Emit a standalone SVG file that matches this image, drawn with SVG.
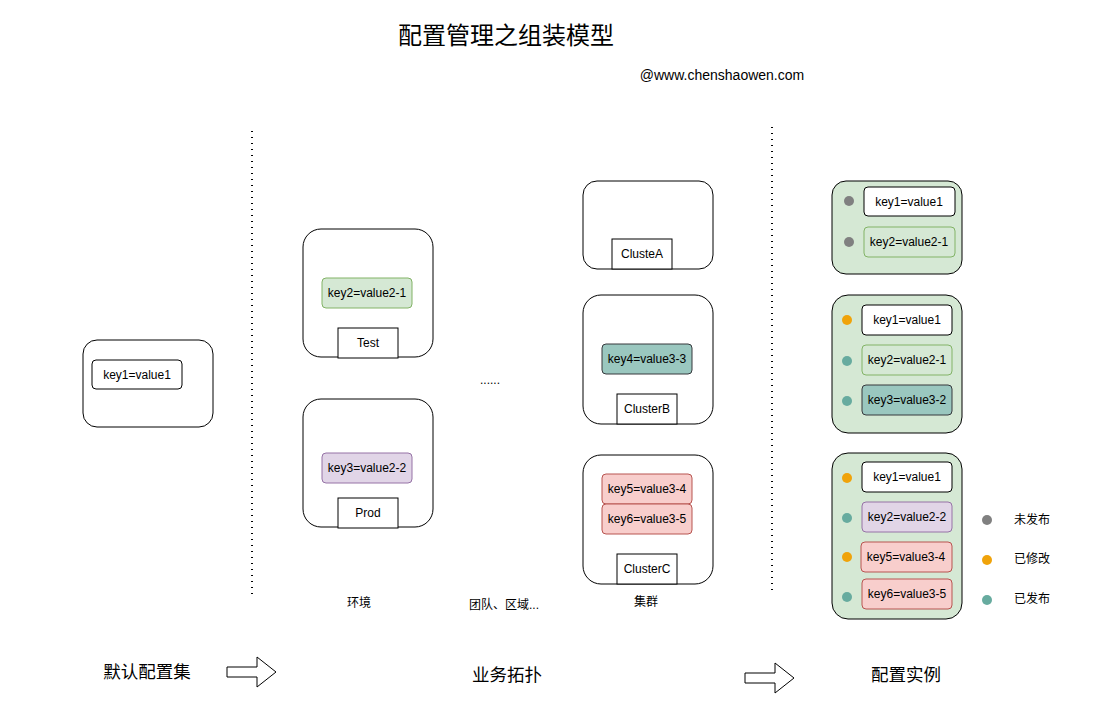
<svg xmlns="http://www.w3.org/2000/svg" width="1100" height="725" viewBox="0 0 1100 725">
<defs>
<style>
text{font-family:"Liberation Sans","Noto Sans CJK SC",sans-serif;fill:#000;text-anchor:middle;dominant-baseline:central}
.k{font-size:12px}
.c{fill:#fff;stroke:#000;stroke-width:1}
.cg{fill:#d5e8d4;stroke:#000;stroke-width:1}
.w{fill:#fff;stroke:#000;stroke-width:1}
.g{fill:#d5e8d4;stroke:#82b366;stroke-width:1}
.p{fill:#e1d5e7;stroke:#9673a6;stroke-width:1}
.t{fill:#9ac7bf;stroke:#36393d;stroke-width:1}
.r{fill:#f8cecc;stroke:#b85450;stroke-width:1}
.dg{fill:#808080}
.do{fill:#f0a30a}
.dt{fill:#67ab9f}
.dot{stroke:#000;stroke-width:2;stroke-dasharray:1 5}
.ar{fill:#fff;stroke:#000;stroke-width:1}
.b{font-size:17.5px}
.s{font-size:12px}
</style>
</defs>
<rect width="1100" height="725" fill="#fff"/>
<text x="506" y="35" style="font-size:24px">配置管理之组装模型</text>
<text x="722" y="75" style="font-size:14px">@www.chenshaowen.com</text>

<g id="dividers">
<line class="dot" x1="252" y1="131" x2="252" y2="598"/>
<line class="dot" x1="772" y1="127" x2="772" y2="593"/>
</g>

<g id="default">
<rect class="c" x="83" y="340" width="130" height="87" rx="14"/>
<rect class="w" x="92" y="360" width="90" height="29" rx="4"/>
<text class="k" x="137" y="375">key1=value1</text>
</g>

<g id="test">
<rect class="c" x="303" y="229" width="130" height="128" rx="18"/>
<rect class="g" x="322" y="278" width="90" height="30" rx="4"/>
<text class="k" x="367" y="293">key2=value2-1</text>
<rect class="w" x="338" y="328" width="60" height="30"/>
<text class="k" x="368" y="343">Test</text>
</g>

<g id="prod">
<rect class="c" x="303" y="399" width="130" height="128" rx="18"/>
<rect class="p" x="322" y="453" width="90" height="30" rx="4"/>
<text class="k" x="367" y="468">key3=value2-2</text>
<rect class="w" x="338" y="498" width="60" height="30"/>
<text class="k" x="368" y="513">Prod</text>
</g>

<text class="s" x="490" y="380">......</text>

<g id="clusterA">
<rect class="c" x="583" y="181" width="130" height="88" rx="14"/>
<rect class="w" x="612" y="239" width="60" height="30"/>
<text class="k" x="642" y="254">ClusteA</text>
</g>

<g id="clusterB">
<rect class="c" x="583" y="295" width="130" height="129" rx="18"/>
<rect class="t" x="602" y="344" width="90" height="30" rx="4"/>
<text class="k" x="647" y="359">key4=value3-3</text>
<rect class="w" x="617" y="394" width="60" height="30"/>
<text class="k" x="647" y="409">ClusterB</text>
</g>

<g id="clusterC">
<rect class="c" x="583" y="455" width="130" height="129" rx="18"/>
<rect class="r" x="602" y="474" width="90" height="30" rx="4"/>
<text class="k" x="647" y="489">key5=value3-4</text>
<rect class="r" x="602" y="504" width="90" height="30" rx="4"/>
<text class="k" x="647" y="519">key6=value3-5</text>
<rect class="w" x="617" y="554" width="60" height="30"/>
<text class="k" x="647" y="569">ClusterC</text>
</g>

<text class="s" x="359" y="603">环境</text>
<text class="s" x="504" y="605">团队、区域...</text>
<text class="s" x="646" y="602">集群</text>

<g id="instance1">
<rect class="cg" x="832" y="181" width="130" height="93" rx="14"/>
<circle class="dg" cx="849" cy="201" r="5"/>
<rect class="w" x="864" y="187" width="91" height="29" rx="4"/>
<text class="k" x="909" y="202">key1=value1</text>
<circle class="dg" cx="849" cy="242" r="5"/>
<rect class="g" x="864" y="227" width="91" height="30" rx="4"/>
<text class="k" x="909" y="242">key2=value2-1</text>
</g>

<g id="instance2">
<rect class="cg" x="832" y="295" width="130" height="138" rx="16"/>
<circle class="do" cx="847" cy="320" r="5"/>
<rect class="w" x="862" y="305" width="90" height="30" rx="4"/>
<text class="k" x="907" y="320">key1=value1</text>
<circle class="dt" cx="847" cy="361" r="5"/>
<rect class="g" x="862" y="345" width="90" height="30" rx="4"/>
<text class="k" x="907" y="360">key2=value2-1</text>
<circle class="dt" cx="847" cy="401" r="5"/>
<rect class="t" x="862" y="385" width="90" height="30" rx="4"/>
<text class="k" x="907" y="400">key3=value3-2</text>
</g>

<g id="instance3">
<rect class="cg" x="832" y="453" width="130" height="166" rx="16"/>
<circle class="do" cx="847" cy="478" r="5"/>
<rect class="w" x="862" y="462" width="90" height="30" rx="4"/>
<text class="k" x="907" y="477">key1=value1</text>
<circle class="dt" cx="847" cy="518" r="5"/>
<rect class="p" x="862" y="502" width="90" height="30" rx="4"/>
<text class="k" x="907" y="517">key2=value2-2</text>
<circle class="do" cx="847" cy="557" r="5"/>
<rect class="r" x="861" y="542" width="91" height="30" rx="4"/>
<text class="k" x="906" y="557">key5=value3-4</text>
<circle class="dt" cx="847" cy="597" r="5"/>
<rect class="r" x="862" y="579" width="90" height="30" rx="4"/>
<text class="k" x="907" y="594">key6=value3-5</text>
</g>

<g id="legend">
<circle class="dg" cx="987" cy="520" r="5"/>
<text class="s" x="1032" y="520">未发布</text>
<circle class="do" cx="987" cy="560" r="5"/>
<text class="s" x="1032" y="559">已修改</text>
<circle class="dt" cx="987" cy="600" r="5"/>
<text class="s" x="1032" y="599">已发布</text>
</g>

<g id="bottom">
<text class="b" x="147" y="672">默认配置集</text>
<text class="b" x="507" y="675">业务拓扑</text>
<text class="b" x="906" y="675">配置实例</text>
</g>

<g id="connectors">
<polygon class="ar" points="227,667 257,667 257,657 276,672 257,687 257,677 227,677"/>
<polygon class="ar" points="745,673 775,673 775,663 794,678 775,693 775,683 745,683"/>
</g>
</svg>
